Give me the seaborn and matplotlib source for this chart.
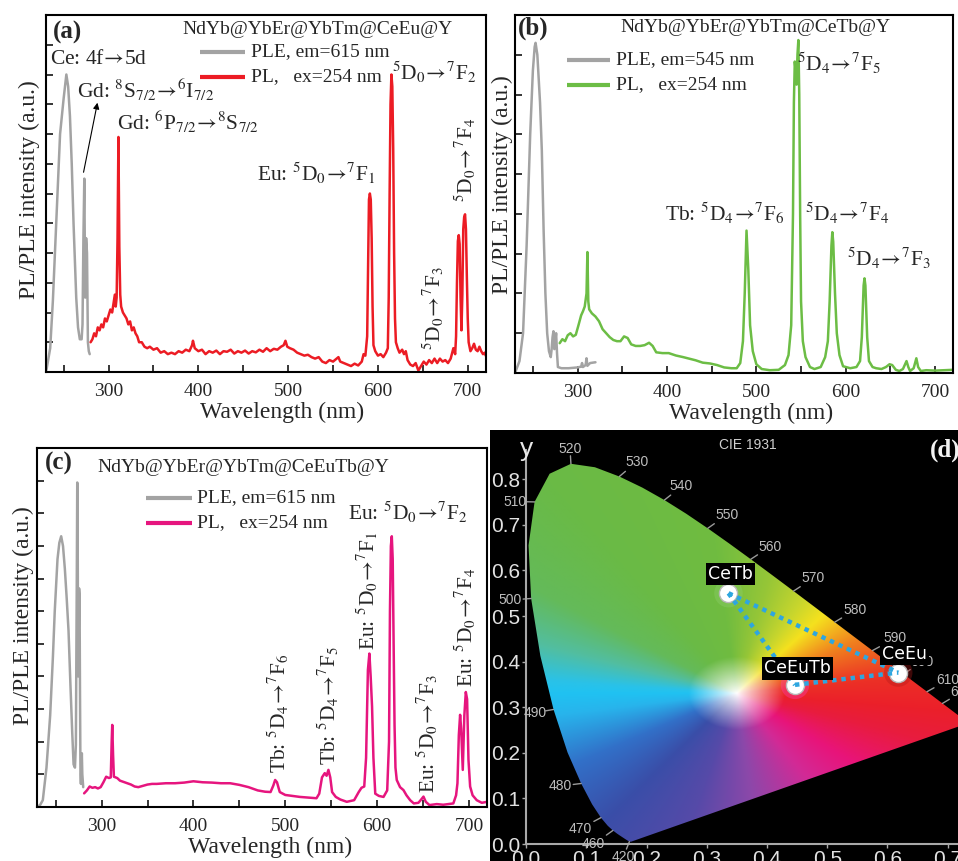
import numpy as np
import matplotlib
matplotlib.use("Agg")
import matplotlib.pyplot as plt
import seaborn as sns
from matplotlib.patches import Polygon, FancyArrowPatch
from matplotlib.lines import Line2D
from matplotlib.ticker import FixedLocator

# ------------------------------------------------------------------ data
# (wavelength nm, intensity a.u.)
ple_a = [(230, 0.0), (231, 0.1), (235, 0.8), (238, 2.4), (242, 5.2), (246, 8.0), (250, 9.2), (253, 10.0),
         (255, 9.6), (257, 8.6), (259, 7.0), (261, 5.0), (264, 2.5), (266, 1.5), (268, 1.1), (270, 1.1),
         (271, 1.6), (272, 4.5), (273, 6.5), (274, 2.5), (275, 4.5), (276, 4.0), (277, 1.0), (278, 0.7), (279, 0.6)]
pl_a = [(280, 1.0), (282, 1.1), (284, 1.3), (286, 1.2), (288, 1.5), (290, 1.4), (292, 1.6), (294, 1.5), (296, 1.8),
        (298, 1.7), (300, 1.9), (302, 2.1), (304, 2.0), (306, 2.4), (307, 2.6), (308, 2.2), (309, 2.5), (310, 4.5),
        (311, 7.9), (312, 4.2), (313, 2.6), (314, 2.2), (316, 2.0), (318, 1.9), (320, 1.8), (322, 1.6), (324, 1.7),
        (326, 1.4), (328, 1.5), (330, 1.3), (332, 1.2), (334, 1.0), (337, 1.0), (340, 0.85), (343, 0.8), (346, 0.85),
        (350, 0.75), (354, 0.8), (358, 0.65), (362, 0.7), (366, 0.6), (370, 0.65), (374, 0.6), (378, 0.7),
        (382, 0.65), (386, 0.75), (390, 0.7), (393, 0.9), (394, 1.05), (396, 0.8), (400, 0.7), (404, 0.75),
        (408, 0.6), (412, 0.7), (416, 0.65), (420, 0.72), (424, 0.6), (428, 0.7), (432, 0.68), (436, 0.75),
        (440, 0.62), (444, 0.7), (448, 0.65), (452, 0.72), (456, 0.62), (460, 0.7), (464, 0.66), (468, 0.75),
        (472, 0.68), (476, 0.8), (480, 0.7), (484, 0.78), (488, 0.75), (492, 0.85), (495, 0.9), (497, 1.05),
        (499, 0.85), (502, 0.8), (506, 0.75), (510, 0.65), (514, 0.6), (518, 0.55), (522, 0.58), (526, 0.5),
        (530, 0.45), (534, 0.5), (538, 0.35), (542, 0.3), (546, 0.4), (550, 0.35), (554, 0.45), (556, 0.5),
        (558, 0.35), (562, 0.3), (566, 0.25), (570, 0.2), (574, 0.28), (578, 0.22), (582, 0.35), (584, 0.6),
        (586, 0.55), (588, 1.2), (589, 3.5), (590, 5.8), (591, 6.0), (592, 5.8), (593, 4.5), (594, 2.2),
        (595, 0.9), (597, 0.7), (600, 0.55), (603, 0.6), (606, 0.5), (609, 0.65), (611, 0.8), (612, 2.5),
        (613, 6.0), (614, 9.0), (615, 10.0), (616, 9.6), (617, 7.5), (618, 4.0), (619, 1.8), (620, 1.0),
        (622, 0.8), (624, 0.65), (627, 0.75), (629, 0.6), (631, 0.7), (633, 0.4), (636, 0.25), (639, 0.2),
        (642, 0.3), (645, 0.05), (648, 0.2), (651, 0.35), (654, 0.25), (657, 0.4), (660, 0.3), (663, 0.45),
        (666, 0.3), (669, 0.45), (672, 0.35), (675, 0.4), (678, 0.3), (681, 0.45), (684, 0.8), (686, 0.6),
        (687, 1.2), (688, 3.0), (689, 4.4), (690, 4.6), (691, 4.3), (692, 2.5), (693, 1.4), (694, 2.6),
        (695, 4.8), (696, 5.2), (697, 5.3), (698, 4.8), (699, 3.2), (700, 1.8), (701, 1.0), (703, 0.7),
        (705, 0.8), (707, 0.95), (709, 0.75), (711, 0.7), (713, 0.85), (715, 0.7), (717, 0.6), (719, 0.65), (720, 0.55)]

ple_b = [(230, 0.0), (235, 0.3), (239, 1.0), (243, 3.2), (247, 6.0), (250, 7.6), (252, 8.2), (253, 8.3),
         (255, 8.0), (258, 6.8), (260, 5.6), (262, 3.6), (264, 2.0), (266, 1.0), (268, 0.55), (270, 0.4),
         (271, 0.6), (272, 0.9), (273, 1.05), (274, 0.6), (275, 0.8), (276, 1.0), (277, 0.5), (278, 0.15),
         (282, 0.12), (290, 0.12), (300, 0.14), (304, 0.16), (305, 0.25), (306, 0.15), (309, 0.2), (310, 0.37),
         (311, 0.18), (314, 0.25), (320, 0.27)]
pl_b = [(280, 0.75), (283, 0.85), (286, 0.8), (289, 0.95), (292, 1.0), (295, 0.92), (298, 0.96), (301, 1.2),
        (304, 1.45), (306, 1.55), (308, 1.67), (310, 2.0), (311, 3.04), (312, 1.8), (313, 1.6), (316, 1.5),
        (320, 1.42), (324, 1.3), (328, 1.1), (332, 1.0), (336, 0.9), (340, 0.83), (344, 0.8), (348, 0.8),
        (352, 0.92), (356, 0.88), (360, 0.72), (365, 0.68), (370, 0.68), (375, 0.7), (380, 0.76), (384, 0.68),
        (388, 0.52), (395, 0.5), (402, 0.5), (410, 0.44), (418, 0.4), (425, 0.36), (432, 0.32), (440, 0.26),
        (448, 0.24), (456, 0.2), (464, 0.14), (472, 0.12), (478, 0.12), (482, 0.25), (485, 0.8), (487, 2.0),
        (489, 3.58), (491, 2.6), (493, 1.2), (496, 0.55), (500, 0.22), (506, 0.1), (515, 0.07), (525, 0.08),
        (532, 0.2), (536, 0.45), (539, 1.2), (541, 4.0), (542, 6.8), (543, 7.83), (544, 7.6), (545, 7.25),
        (546, 8.0), (547, 8.37), (548, 7.0), (549, 4.0), (550, 1.8), (552, 0.8), (555, 0.4), (560, 0.15),
        (565, 0.1), (572, 0.15), (577, 0.4), (580, 0.8), (582, 1.8), (584, 3.2), (585, 3.54), (586, 3.3),
        (588, 2.0), (590, 1.0), (593, 0.45), (597, 0.17), (605, 0.12), (612, 0.15), (616, 0.3), (618, 0.9),
        (620, 2.2), (621, 2.38), (622, 2.2), (624, 0.9), (626, 0.3), (630, 0.15), (634, 0.12), (640, 0.1),
        (645, 0.15), (649, 0.22), (652, 0.2), (656, 0.08), (660, 0.05), (664, 0.1), (668, 0.3), (670, 0.15),
        (672, 0.05), (676, 0.12), (679, 0.37), (681, 0.15), (684, 0.05), (690, 0.07), (700, 0.06), (710, 0.07),
        (720, 0.08)]

ple_c = [(230, 0.0), (233, 0.05), (236, 0.2), (240, 1.2), (244, 2.8), (247, 4.6), (249, 6.0), (252, 7.6),
         (254, 8.1), (256, 8.3), (258, 8.0), (260, 7.3), (262, 6.4), (264, 5.4), (266, 3.8), (268, 2.3),
         (269.5, 1.3), (271, 1.2), (272, 1.9), (273, 7.0), (273.5, 9.95), (274, 8.0), (274.5, 4.0), (275, 5.0),
         (275.5, 6.7), (276, 6.5), (276.5, 3.5), (277, 1.0), (277.5, 0.7), (278, 1.2), (278.5, 1.64), (279, 1.0),
         (280, 0.6)]
pl_c = [(281, 0.41), (284, 0.5), (287, 0.62), (290, 0.58), (293, 0.6), (296, 0.56), (299, 0.6), (302, 0.75),
        (305, 0.92), (308, 0.88), (310, 0.9), (311, 2.0), (311.6, 2.51), (312.5, 1.6), (313.4, 0.92), (317, 0.88),
        (320, 0.8), (324, 0.76), (328, 0.72), (332, 0.68), (336, 0.62), (340, 0.6), (345, 0.64), (350, 0.68),
        (355, 0.7), (360, 0.7), (370, 0.72), (380, 0.72), (390, 0.74), (400, 0.78), (410, 0.75), (420, 0.74),
        (430, 0.72), (440, 0.72), (450, 0.67), (460, 0.6), (470, 0.5), (478, 0.46), (484, 0.45), (487, 0.65),
        (489, 0.82), (491, 0.75), (494, 0.45), (500, 0.36), (508, 0.33), (516, 0.3), (525, 0.28), (534, 0.26),
        (537, 0.4), (540, 0.9), (543, 1.03), (545, 0.95), (547, 1.13), (549, 0.9), (551, 0.45), (555, 0.3),
        (560, 0.22), (567, 0.15), (575, 0.2), (580, 0.45), (583, 0.58), (586, 0.62), (588, 1.5), (590, 4.2),
        (591.6, 4.7), (593, 4.0), (594.5, 3.08), (596, 1.5), (598, 0.4), (602, 0.33), (607, 0.3), (611, 0.5),
        (613, 2.0), (614, 6.0), (615, 8.0), (616, 8.3), (617, 7.6), (618, 5.0), (619, 2.5), (620, 1.2),
        (621.4, 0.82), (625, 0.6), (628.7, 0.51), (632, 0.35), (636, 0.2), (640, 0.1), (645, 0.12), (648, 0.22),
        (650.5, 0.31), (653, 0.15), (657, 0.05), (665, 0.08), (672, 0.06), (683, 0.1), (686, 0.35), (687.5, 0.72),
        (689, 2.2), (690.4, 2.82), (691.5, 2.4), (693.3, 1.13), (695, 2.8), (696.6, 3.52), (698, 3.3),
        (699.5, 1.44), (701.3, 0.62), (704, 0.35), (708.5, 0.2), (714, 0.12), (720, 0.15)]

sample_names = ["NdYb@YbEr@YbTm@CeEu@Y", "NdYb@YbEr@YbTm@CeTb@Y", "NdYb@YbEr@YbTm@CeEuTb@Y"]
ple_labels = ["PLE, em=615 nm", "PLE, em=545 nm", "PLE, em=615 nm"]
pl_label = "PL,   ex=254 nm"

# CIE 1931 spectral locus (wavelength, x, y)
locus_wl = [380, 420, 440, 450, 455, 460, 465, 470, 475, 480, 485, 490, 495, 500, 505, 510, 515, 520, 525,
            530, 535, 540, 545, 550, 555, 560, 565, 570, 575, 580, 585, 590, 595, 600, 605, 610, 620, 630,
            640, 650, 700]
locus_x = [0.1741, 0.1714, 0.1644, 0.1566, 0.1510, 0.1440, 0.1355, 0.1241, 0.1096, 0.0913, 0.0687, 0.0454,
           0.0235, 0.0082, 0.0039, 0.0139, 0.0389, 0.0743, 0.1142, 0.1547, 0.1929, 0.2296, 0.2658, 0.3016,
           0.3373, 0.3731, 0.4087, 0.4441, 0.4788, 0.5125, 0.5448, 0.5752, 0.6029, 0.6270, 0.6482, 0.6658,
           0.6915, 0.7079, 0.7190, 0.7260, 0.7347]
locus_y = [0.0050, 0.0051, 0.0109, 0.0177, 0.0227, 0.0297, 0.0399, 0.0578, 0.0868, 0.1327, 0.2007, 0.2950,
           0.4127, 0.5384, 0.6548, 0.7502, 0.8120, 0.8338, 0.8262, 0.8059, 0.7816, 0.7543, 0.7243, 0.6923,
           0.6589, 0.6245, 0.5896, 0.5547, 0.5202, 0.4866, 0.4544, 0.4242, 0.3965, 0.3725, 0.3514, 0.3340,
           0.3083, 0.2920, 0.2809, 0.2740, 0.2653]
labelled_wl = [420, 460, 470, 480, 490, 500, 510, 520, 530, 540, 550, 560, 570, 580, 590, 600, 610, 620]

cie_names = ["CeTb", "CeEuTb", "CeEu"]
cie_x = [0.336, 0.4465, 0.618]
cie_y = [0.550, 0.349, 0.376]

# ------------------------------------------------------------------ style
sns.set_style("ticks")
plt.rcParams["font.family"] = ["Liberation Serif", "DejaVu Serif"]
plt.rcParams["mathtext.fontset"] = "stix"

W, H = 958, 861
fig = plt.figure(figsize=(W / 100, H / 100), dpi=100)
fig.patch.set_facecolor("white")


def fpos(px, py):
    return px / W, 1 - py / H


def ftext(px, py, s, **kw):
    x, y = fpos(px, py)
    return fig.text(x, y, s, **kw)


def axes_px(l, t, r, b):
    return fig.add_axes([l / W, 1 - b / H, (r - l) / W, (b - t) / H])


def fline(x1, x2, py, color, lw):
    fig.add_artist(Line2D([x1 / W, x2 / W], [1 - py / H, 1 - py / H], transform=fig.transFigure,
                          color=color, lw=lw, solid_capstyle="butt"))


GRAY = "#a3a3a3"
RED = "#ec1c24"
GREEN = "#6cbd45"
PINK = "#e6157e"
ANN = 15.5
SMALL = 14
AR = r"$\!\rightarrow\!$"

panels = [
    dict(box=(45.7, 15, 485.7, 372), ymax=12, ple=ple_a, pl=pl_a, col=RED),
    dict(box=(515, 15, 953, 373), ymax=9, ple=ple_b, pl=pl_b, col=GREEN),
    dict(box=(37.3, 448.3, 487.3, 806.7), ymax=11, ple=ple_c, pl=pl_c, col=PINK),
]
for p in panels:
    ax = axes_px(*p["box"])
    wl1, v1 = zip(*p["ple"])
    wl2, v2 = zip(*p["pl"])
    sns.lineplot(x=list(wl1), y=list(v1), ax=ax, color=GRAY, lw=1.8, estimator=None, sort=False, legend=False)
    sns.lineplot(x=list(wl2), y=list(v2), ax=ax, color=p["col"], lw=1.8, estimator=None, sort=False, legend=False)
    ax.set_xlim(230, 720)
    ax.set_ylim(0, p["ymax"])
    ax.set_xticks([300, 400, 500, 600, 700])
    ax.xaxis.set_minor_locator(FixedLocator([250, 350, 450, 550, 650]))
    ax.set_yticks(list(range(1, p["ymax"])))
    ax.set_yticklabels([])
    ax.tick_params(axis="both", which="both", direction="in", length=5, width=1.3, labelsize=SMALL, pad=8,
                   top=False, right=False)
    for s in ax.spines.values():
        s.set_linewidth(1.5)
        s.set_color("black")
    ax.set_xlabel("")
    ax.set_ylabel("")

# axis labels
for (xc, yc) in [(282, 412), (751, 413), (270, 847)]:
    ftext(xc, yc, "Wavelength (nm)", fontsize=17, ha="center", va="center")
for (xc, yc) in [(29.5, 190), (502, 185), (23, 616)]:
    ftext(xc, yc, "PL/PLE intensity (a.u.)", fontsize=17, ha="center", va="center", rotation=90)

# panel letters, titles, legends
letters = [("(a)", 53, 32), ("(b)", 518, 28), ("(c)", 45, 463)]
for s, x, y in letters:
    ftext(x, y, s, fontsize=18, fontweight="bold", ha="left", va="center")
titles = [(182, 30), (620, 27), (97, 467)]
for name, (x, y) in zip(sample_names, titles):
    ftext(x, y, name, fontsize=SMALL, ha="left", va="center")
legends = [((200, 245), 251, (52, 77)), ((567, 610), 616, (60, 85)), ((146, 192), 197, (498, 523))]
for i, ((lx1, lx2), tx, (r1, r2)) in enumerate(legends):
    fline(lx1, lx2, r1, GRAY, 3.0)
    fline(lx1, lx2, r2, panels[i]["col"], 3.0)
    ftext(tx, r1, ple_labels[i], fontsize=SMALL, ha="left", va="center")
    ftext(tx, r2, pl_label, fontsize=SMALL, ha="left", va="center")

# annotations panel (a)
ftext(50, 60, "Ce: 4f" + AR + "5d", fontsize=ANN, ha="left", va="center")
ftext(77, 90, r"Gd: $^8$S$_{7/2}$" + AR + r"$^6$I$_{7/2}$", fontsize=ANN, ha="left", va="center")
ftext(117, 122, r"Gd: $^6$P$_{7/2}$" + AR + r"$^8$S$_{7/2}$", fontsize=ANN, ha="left", va="center")
ftext(257, 173, r"Eu: $^5$D$_0$" + AR + r"$^7$F$_1$", fontsize=ANN, ha="left", va="center")
ftext(392, 72, r"$^5$D$_0$" + AR + r"$^7$F$_2$", fontsize=ANN, ha="left", va="center")
ftext(433, 350, r"$^5$D$_0$" + AR + r"$^7$F$_3$", fontsize=ANN, ha="center", va="bottom", rotation=90)
ftext(465, 202, r"$^5$D$_0$" + AR + r"$^7$F$_4$", fontsize=ANN, ha="center", va="bottom", rotation=90)
fig.add_artist(FancyArrowPatch(fpos(83, 175), fpos(98, 100), transform=fig.transFigure,
                               arrowstyle="-|>", mutation_scale=9, lw=0.8, color="black"))

# annotations panel (b)
ftext(797, 63, r"$^5$D$_4$" + AR + r"$^7$F$_5$", fontsize=ANN, ha="left", va="center")
ftext(665, 213, r"Tb: $^5$D$_4$" + AR + r"$^7$F$_6$", fontsize=ANN, ha="left", va="center")
ftext(805, 213, r"$^5$D$_4$" + AR + r"$^7$F$_4$", fontsize=ANN, ha="left", va="center")
ftext(847, 258, r"$^5$D$_4$" + AR + r"$^7$F$_3$", fontsize=ANN, ha="left", va="center")

# annotations panel (c)
ftext(348, 512, r"Eu: $^5$D$_0$" + AR + r"$^7$F$_2$", fontsize=ANN, ha="left", va="center")
ftext(278, 773, r"Tb: $^5$D$_4$" + AR + r"$^7$F$_6$", fontsize=ANN, ha="center", va="bottom", rotation=90)
ftext(328, 765, r"Tb: $^5$D$_4$" + AR + r"$^7$F$_5$", fontsize=ANN, ha="center", va="bottom", rotation=90)
ftext(367, 650, r"Eu: $^5$D$_0$" + AR + r"$^7$F$_1$", fontsize=ANN, ha="center", va="bottom", rotation=90)
ftext(427, 793, r"Eu: $^5$D$_0$" + AR + r"$^7$F$_3$", fontsize=ANN, ha="center", va="bottom", rotation=90)
ftext(465, 687, r"Eu: $^5$D$_0$" + AR + r"$^7$F$_4$", fontsize=ANN, ha="center", va="bottom", rotation=90)

# ------------------------------------------------------------------ panel (d) CIE
axd = axes_px(490, 430, 958, 861)
axd.set_facecolor("black")
X0, SX, Y0, SY = 526.2, 602.0, 844.0, 456.0
axd.set_xlim((490 - X0) / SX, (958 - X0) / SX)
axd.set_ylim((Y0 - 861) / SY, (Y0 - 430) / SY)

gx = np.linspace(0, 0.75, 500)
gy = np.linspace(0, 0.86, 500)
GX, GY = np.meshgrid(gx, gy)
WP = (0.35, 0.33)
ang = np.degrees(np.arctan2(GY - WP[1], GX - WP[0]))
dist = np.hypot(GX - WP[0], GY - WP[1])
anchor_ang = np.array([-180, -171, -150, -128, -105, -84, -58, -38, -18, -6, 7, 30, 50, 62, 78, 96, 124,
                       146, 162, 175, 180])
anchor_rgb = np.array([(32, 194, 242), (40, 180, 236), (50, 112, 200), (58, 78, 168), (86, 74, 168),
                       (140, 72, 170), (210, 42, 150), (232, 20, 122), (232, 28, 62), (235, 32, 42),
                       (236, 48, 38), (240, 128, 30), (245, 225, 30), (200, 214, 45), (150, 198, 55),
                       (112, 188, 64), (106, 186, 70), (100, 186, 90), (82, 190, 160), (42, 194, 232),
                       (32, 194, 242)]) / 255.0
rgb = np.stack([np.interp(ang, anchor_ang, anchor_rgb[:, k]) for k in range(3)], axis=-1)
sat = np.clip(dist / 0.08, 0, 1) ** 0.9
img = 1 - sat[..., None] * (1 - rgb)
im = axd.imshow(img, extent=(0, 0.75, 0, 0.86), origin="lower", aspect="auto", interpolation="bilinear",
                zorder=1)
poly = Polygon(np.column_stack([locus_x, locus_y]), closed=True, facecolor="none", edgecolor="none",
               transform=axd.transData)
axd.add_patch(poly)
im.set_clip_path(poly)

# spines / ticks
for s in ["top", "right"]:
    axd.spines[s].set_visible(False)
for s in ["left", "bottom"]:
    axd.spines[s].set_position(("data", 0))
    axd.spines[s].set_color("#a8a8a8")
    axd.spines[s].set_linewidth(1.5)
axd.spines["left"].set_bounds(0, 0.865)
axd.spines["bottom"].set_bounds(0, 0.8)
axd.set_yticks([0.0, 0.1, 0.2, 0.3, 0.4, 0.5, 0.6, 0.7, 0.8],
               labels=["0.0", "0.1", "0.2", "0.3", "0.4", "0.5", "0.6", "0.7", "0.8"],
               fontfamily="Liberation Sans")
axd.set_xticks([0.0, 0.1, 0.2, 0.3, 0.4, 0.5, 0.6, 0.7],
               labels=["0.0", "0.1", "0.2", "0.3", "0.4", "0.5", "0.6", "0.7"], fontfamily="Liberation Sans")
axd.tick_params(axis="both", direction="out", length=3, width=1, color="#a8a8a8", labelcolor="#e2e2e2",
                labelsize=15, pad=1.5)
axd.text(0.0005, 0.866, "y", fontsize=19, color="#e8e8e8", ha="center", va="center",
         fontfamily="Liberation Sans")
axd.text(0.3685, 0.875, "CIE 1931", fontsize=10, color="#cfcfcf", ha="center", va="center",
         fontfamily="Liberation Sans")

# wavelength ticks and labels
wl_label_pos = {520: (0.0728, 0.866), 530: (0.1835, 0.838), 540: (0.258, 0.784), 550: (0.333, 0.7215),
                560: (0.405, 0.652), 570: (0.477, 0.583), 580: (0.546, 0.513), 590: (0.6126, 0.451),
                600: (0.657, 0.40), 610: (0.701, 0.36), 620: (0.724, 0.334), 510: (-0.0186, 0.751),
                500: (-0.027, 0.535), 490: (0.0146, 0.288), 480: (0.056, 0.127), 470: (0.089, 0.033),
                460: (0.1115, -0.001), 420: (0.161, -0.029)}
for wl in labelled_wl:
    i = locus_wl.index(wl)
    px_, py_ = locus_x[i], locus_y[i]
    lx, ly = wl_label_pos[wl]
    dxp, dyp = (lx - px_) * SX, (ly - py_) * SY
    n = np.hypot(dxp, dyp)
    L = 8.0
    ex, ey = px_ + dxp / n * L / SX, py_ + dyp / n * L / SY
    axd.plot([px_, ex], [py_, ey], color="#9a9a9a", lw=1.0, zorder=2)
    axd.text(lx, ly, str(wl), fontsize=10, color="#bdbdbd", ha="center", va="center",
             fontfamily="Liberation Sans", zorder=3)

# sample points
halo_cols = ["#8fd070", "#ff3fc0", "#b01818"]
axd.scatter(cie_x, cie_y, s=420, c=halo_cols, alpha=0.35, linewidths=0, zorder=4)
sns.scatterplot(x=cie_x, y=cie_y, ax=axd, s=170, color="white", edgecolor="#b8b8b8", linewidth=1.0,
                zorder=5, legend=False)
tri = [(0, 1), (0, 2), (1, 2)]
for a, b in tri:
    axd.plot([cie_x[a], cie_x[b]], [cie_y[a], cie_y[b]], color="#2ea6df", lw=3.2, ls=(0, (1, 1.1)), zorder=6)
lab_pos = [(0.339, 0.592), (0.451, 0.385), (0.629, 0.4167)]
for name, (lx, ly) in zip(cie_names, lab_pos):
    axd.text(lx, ly, name, fontsize=12.5, color="white", ha="center", va="center", fontfamily="DejaVu Sans",
             zorder=7, bbox=dict(boxstyle="square,pad=0.12", facecolor="black", edgecolor="none"))

ftext(930, 450, "(d)", fontsize=18, fontweight="bold", color="#f2f2f2", ha="left", va="center")

fig.savefig("out.png", dpi=100, facecolor="white")
